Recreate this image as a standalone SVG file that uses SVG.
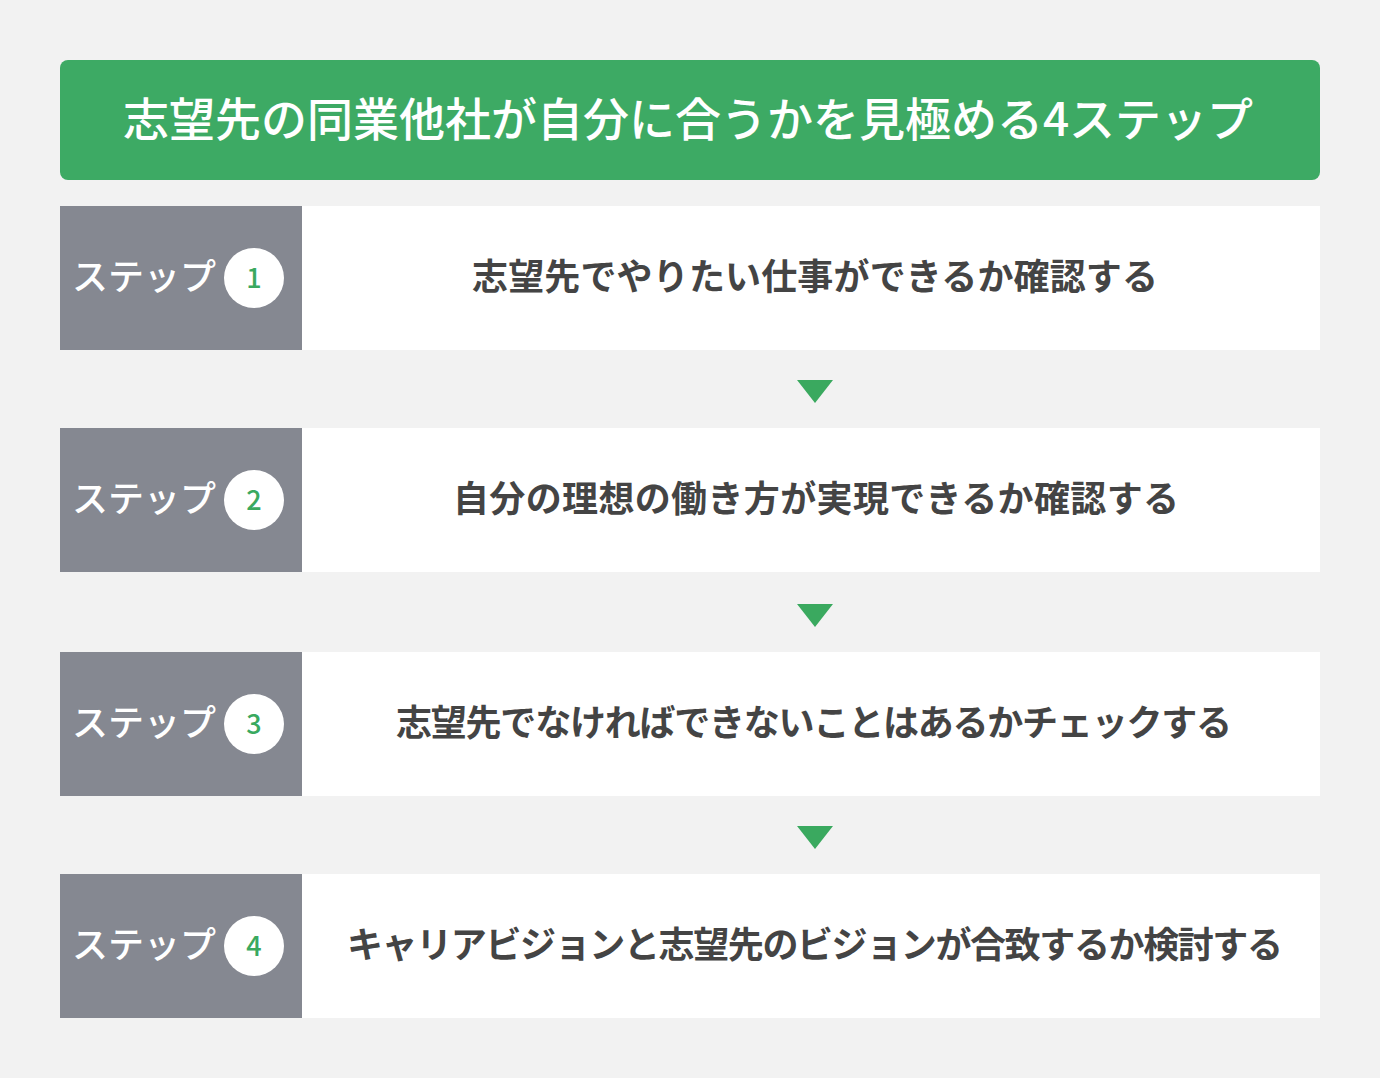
<svg xmlns="http://www.w3.org/2000/svg" width="1380" height="1078" viewBox="0 0 1380 1078">
<style>
.jp{font-family:"Noto Sans CJK JP","Noto Sans",sans-serif;}
.title{font-size:46px;font-weight:500;fill:#ffffff;}
.lbl{font-size:36px;font-weight:500;fill:#ffffff;}
.num{font-family:"Noto Sans CJK JP","Noto Sans",sans-serif;font-size:27px;font-weight:500;fill:#3aa95f;}
.txt{font-size:36px;font-weight:700;fill:#444444;}
.gray{fill:#858891;}
.white{fill:#ffffff;}
.tri{fill:#3aa95f;}
</style>
<rect width="1380" height="1078" fill="#f2f2f2"/>
<g id="header">
<rect x="60" y="60" width="1260" height="120" rx="8" fill="#3daa64"/>
<text class="jp title" x="688" y="136" text-anchor="middle">志望先の同業他社が自分に合うかを見極める4ステップ</text>
</g>
<g id="step1">
<rect class="white" x="302" y="206" width="1018" height="144"/>
<rect class="gray" x="60" y="206" width="242" height="144"/>
<text class="jp lbl" x="72" y="290">ステップ</text>
<circle class="white" cx="254" cy="278" r="30"/>
<text class="num" x="254" y="288" text-anchor="middle">1</text>
<text class="jp txt" x="815" y="290" text-anchor="middle" textLength="686" lengthAdjust="spacing">志望先でやりたい仕事ができるか確認する</text>
</g>
<g id="step2">
<rect class="white" x="302" y="428" width="1018" height="144"/>
<rect class="gray" x="60" y="428" width="242" height="144"/>
<text class="jp lbl" x="72" y="512">ステップ</text>
<circle class="white" cx="254" cy="500" r="30"/>
<text class="num" x="254" y="510" text-anchor="middle">2</text>
<text class="jp txt" x="816" y="512" text-anchor="middle" textLength="726" lengthAdjust="spacing">自分の理想の働き方が実現できるか確認する</text>
</g>
<g id="step3">
<rect class="white" x="302" y="652" width="1018" height="144"/>
<rect class="gray" x="60" y="652" width="242" height="144"/>
<text class="jp lbl" x="72" y="736">ステップ</text>
<circle class="white" cx="254" cy="724" r="30"/>
<text class="num" x="254" y="734" text-anchor="middle">3</text>
<text class="jp txt" x="814" y="736" text-anchor="middle" textLength="836" lengthAdjust="spacing">志望先でなければできないことはあるかチェックする</text>
</g>
<g id="step4">
<rect class="white" x="302" y="874" width="1018" height="144"/>
<rect class="gray" x="60" y="874" width="242" height="144"/>
<text class="jp lbl" x="72" y="958">ステップ</text>
<circle class="white" cx="254" cy="946" r="30"/>
<text class="num" x="254" y="956" text-anchor="middle">4</text>
<text class="jp txt" x="815" y="958" text-anchor="middle" textLength="936" lengthAdjust="spacing">キャリアビジョンと志望先のビジョンが合致するか検討する</text>
</g>
<g id="connectors">
<polygon class="tri" points="797,380 833,380 815,403"/>
<polygon class="tri" points="797,604 833,604 815,627"/>
<polygon class="tri" points="797,826 833,826 815,849"/>
</g>
</svg>
